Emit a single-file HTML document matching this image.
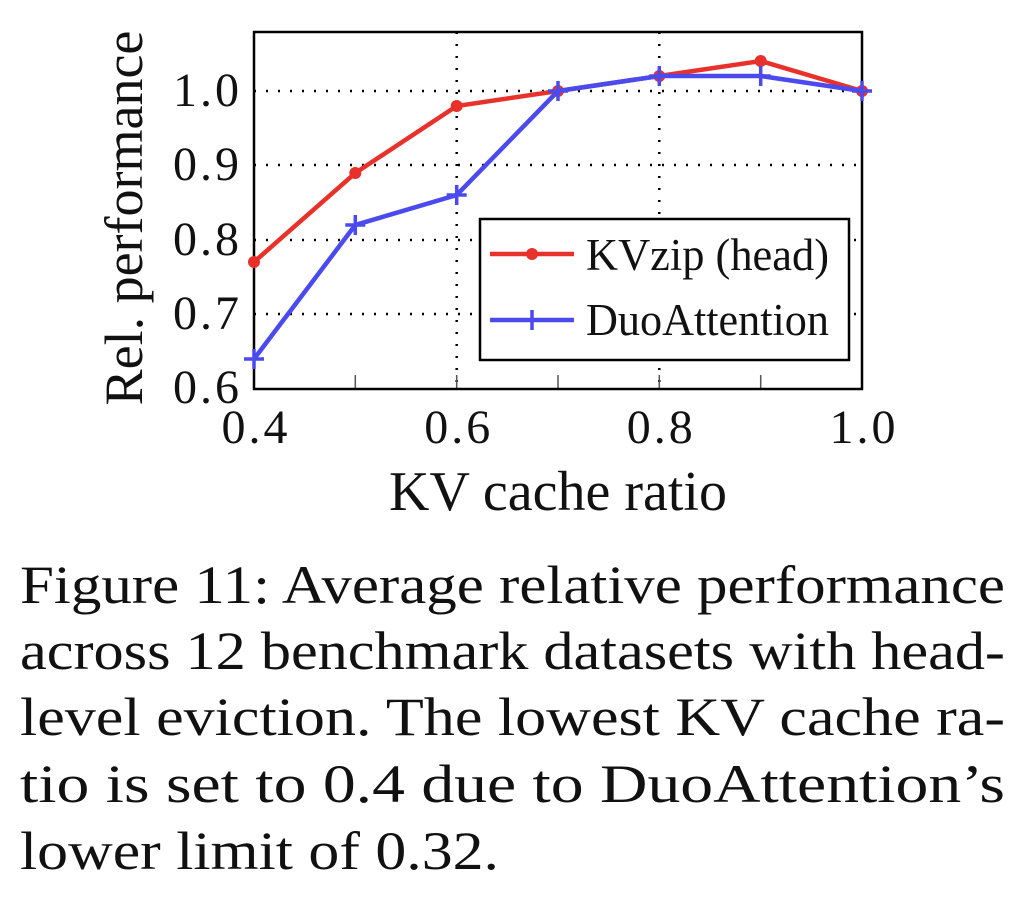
<!DOCTYPE html>
<html><head><style>
body{margin:0;background:#fff;width:1024px;height:914px;overflow:hidden;font-family:"Liberation Serif",serif}
</style></head><body>
<svg width="1024" height="914" style="position:absolute;left:0;top:0" font-family="Liberation Serif, serif">
<g stroke="#000" stroke-width="2.5" stroke-dasharray="2,10" fill="none">
<line x1="254" y1="91" x2="862" y2="91"/><line x1="254" y1="165" x2="862" y2="165"/>
<line x1="254" y1="240" x2="862" y2="240"/><line x1="254" y1="314" x2="862" y2="314"/>
<line x1="456.7" y1="32" x2="456.7" y2="389"/><line x1="659.3" y1="32" x2="659.3" y2="389"/>
</g>
<g stroke="#555" stroke-width="1.5">
<line x1="355.3" y1="389" x2="355.3" y2="375"/><line x1="558" y1="389" x2="558" y2="375"/><line x1="760.7" y1="389" x2="760.7" y2="375"/>
<line x1="456.7" y1="389" x2="456.7" y2="375"/><line x1="659.3" y1="389" x2="659.3" y2="375"/>
</g>
<rect x="254" y="32" width="608" height="357" fill="none" stroke="#000" stroke-width="2.5"/>
<polyline fill="none" stroke="#e8312a" stroke-width="4.5" points="254,262 355.3,173 456.7,106 558,91 659.3,76 760.7,61 862,91"/>
<g fill="#e8312a"><circle cx="254" cy="262" r="6"/><circle cx="355.3" cy="173" r="6"/><circle cx="456.7" cy="106" r="6"/><circle cx="558" cy="91" r="6"/><circle cx="659.3" cy="76" r="6"/><circle cx="760.7" cy="61" r="6"/><circle cx="862" cy="91" r="6"/></g>
<polyline fill="none" stroke="#4a4aee" stroke-width="4.5" points="254,359 355.3,225 456.7,195 558,91 659.3,76 760.7,76 862,91"/>
<g stroke="#4a4aee" stroke-width="3.5">
<path d="M244 359h20M254 349v20M345.3 225h20M355.3 215v20M446.7 195h20M456.7 185v20M548 91h20M558 81v20M649.3 76h20M659.3 66v20M750.7 76h20M760.7 66v20M852 91h20M862 81v20"/>
</g>
<rect x="480" y="219" width="369" height="141" fill="#fff" stroke="#000" stroke-width="2.5"/>
<line x1="490" y1="254" x2="574" y2="254" stroke="#e8312a" stroke-width="4.5"/><circle cx="532" cy="254" r="6" fill="#e8312a"/>
<line x1="490" y1="320" x2="574" y2="320" stroke="#4a4aee" stroke-width="4.5"/><path d="M532 310v20" stroke="#4a4aee" stroke-width="3.5"/>
<g font-size="45" fill="#111">
<text x="586" y="270" textLength="243" lengthAdjust="spacingAndGlyphs">KVzip (head)</text><text x="586" y="335" textLength="243" lengthAdjust="spacingAndGlyphs">DuoAttention</text>
</g>
<g font-size="48" fill="#111" text-anchor="end" letter-spacing="3">
<text x="242" y="106">1.0</text><text x="242" y="180">0.9</text><text x="242" y="255">0.8</text><text x="242" y="329">0.7</text><text x="242" y="403">0.6</text>
</g>
<g font-size="48" fill="#111" text-anchor="middle" letter-spacing="3">
<text x="256" y="443">0.4</text><text x="458.7" y="443">0.6</text><text x="661.3" y="443">0.8</text><text x="864" y="443">1.0</text>
</g>
<g fill="#111" text-anchor="middle">
<text x="558" y="510" font-size="56">KV cache ratio</text>
<text transform="translate(142,218) rotate(-90)" font-size="54">Rel. performance</text>
</g>
<g fill="#111" font-size="54" lengthAdjust="spacingAndGlyphs">
<text x="20" y="603" textLength="985" lengthAdjust="spacingAndGlyphs">Figure 11: Average relative performance</text>
<text x="20" y="669" textLength="985" lengthAdjust="spacingAndGlyphs">across 12 benchmark datasets with head-</text>
<text x="20" y="735" textLength="985" lengthAdjust="spacingAndGlyphs">level eviction. The lowest KV cache ra-</text>
<text x="20" y="802" textLength="985" lengthAdjust="spacingAndGlyphs">tio is set to 0.4 due to DuoAttention’s</text>
<text x="20" y="869" textLength="479" lengthAdjust="spacingAndGlyphs">lower limit of 0.32.</text>
</g>
</svg>
</body></html>
